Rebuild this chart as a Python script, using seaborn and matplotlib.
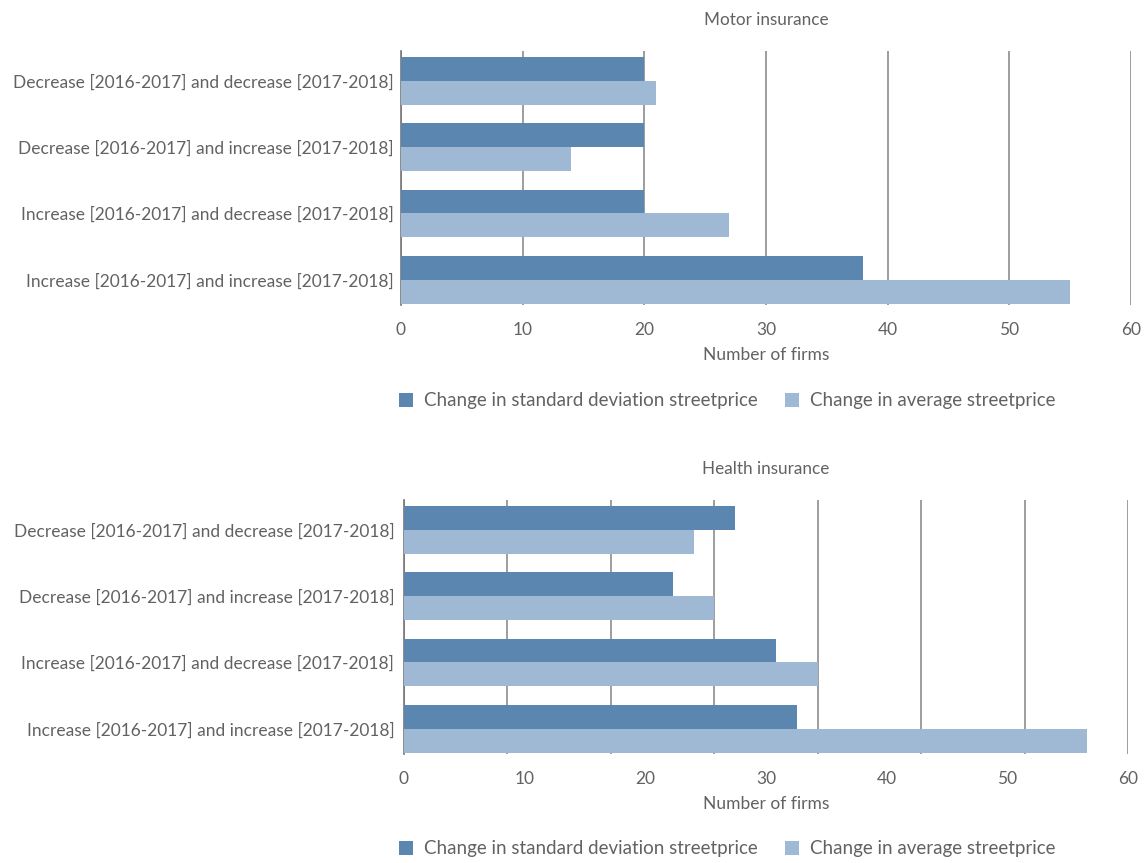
import numpy as np
import pandas as pd
import matplotlib
matplotlib.use('Agg')
import matplotlib.pyplot as plt
from matplotlib.patches import Patch
import seaborn as sns

# Categories and series
categories = [
    'Decrease [2016-2017] and decrease [2017-2018]',
    'Decrease [2016-2017] and increase [2017-2018]',
    'Increase [2016-2017] and decrease [2017-2018]',
    'Increase [2016-2017] and increase [2017-2018]',
]
series = ['Change in standard deviation streetprice', 'Change in average streetprice']

# Motor insurance values
motor_std = [20, 20, 20, 38]
motor_avg = [21, 14, 27, 55]

# Health insurance values (drawn on a 0-70 grid in the source)
health_std = [32, 26, 36, 38]
health_avg = [28, 30, 40, 66]

tick_labels = ['0', '10', '20', '30', '40', '50', '60']

dark = '#5B86B0'
light = '#9FB9D4'
text_grey = '#626262'
grid_grey = '#8c8c8c'

sns.set_theme(style='white')
plt.rcParams['font.family'] = ['Lato', 'DejaVu Sans']


def make_df(std_vals, avg_vals):
    rows = []
    for cat, v in zip(categories, std_vals):
        rows.append({'category': cat, 'series': series[0], 'value': v})
    for cat, v in zip(categories, avg_vals):
        rows.append({'category': cat, 'series': series[1], 'value': v})
    return pd.DataFrame(rows)


def draw_panel(ax, df, title, xmax, grid_step, ypad):
    sns.barplot(data=df, x='value', y='category', hue='series', orient='h',
                order=categories, hue_order=series, palette=[dark, light],
                width=0.72, saturation=1, linewidth=0, ax=ax, legend=False, zorder=3)
    ax.set_xlim(0, xmax)
    ax.set_ylim(3.38, -0.45)
    # vertical gridlines behind the bars
    for gx in np.arange(0, xmax + 1, grid_step):
        ax.axvline(gx, color=grid_grey, linewidth=1.2, zorder=0)
    ax.grid(False)
    # tick labels 0..60 spread across full width
    ax.set_xticks(np.linspace(0, xmax, 7))
    ax.set_xticklabels(tick_labels)
    ax.tick_params(axis='x', length=0, pad=12, labelsize=12.5, labelcolor=text_grey)
    ax.tick_params(axis='y', length=0, pad=ypad, labelsize=12.5, labelcolor=text_grey)
    for s in ['top', 'right', 'bottom']:
        ax.spines[s].set_visible(False)
    ax.spines['left'].set_color('#777777')
    ax.spines['left'].set_linewidth(1.2)
    ax.set_ylabel('')
    ax.set_xlabel('Number of firms', fontsize=12.5, color=text_grey, labelpad=7)
    ax.set_title(title, fontsize=12.3, color=text_grey, pad=19)


fig = plt.figure(figsize=(11.47, 8.63), dpi=100)
ax1 = fig.add_axes([0.3496, 0.6466, 0.6364, 0.2943])
ax2 = fig.add_axes([0.3522, 0.1263, 0.6312, 0.2943])

draw_panel(ax1, make_df(motor_std, motor_avg), 'Motor insurance', 60, 10, 5)
draw_panel(ax2, make_df(health_std, health_avg), 'Health insurance', 70, 10, 7)

handles = [Patch(facecolor=dark, edgecolor='none'), Patch(facecolor=light, edgecolor='none')]
for y in [0.5355, 0.0164]:
    fig.legend(handles, series, loc='center', bbox_to_anchor=(0.634, y), ncol=2,
               frameon=False, fontsize=13.5, labelcolor=text_grey,
               handlelength=0.75, handleheight=0.75, handletextpad=0.55, columnspacing=1.5)

fig.savefig('out.png', dpi=100)
